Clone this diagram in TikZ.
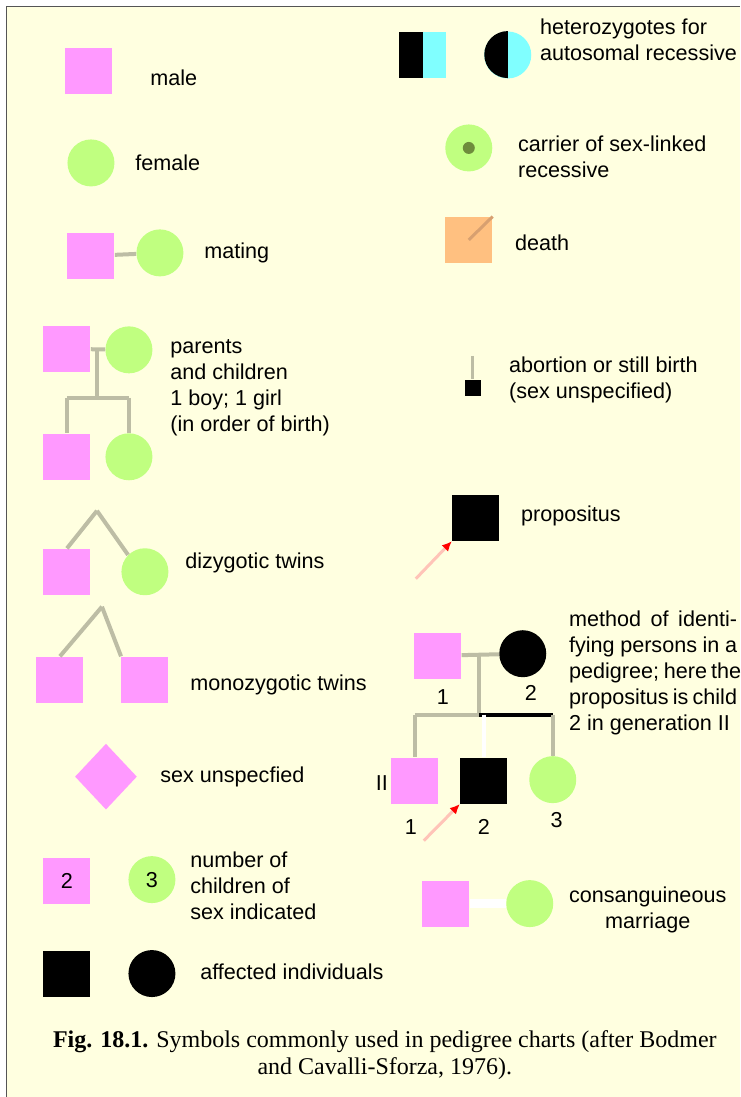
\documentclass[tikz,border=0pt]{standalone}
\usepackage{fontspec}
\setmainfont{Liberation Serif}
\newfontfamily\arialf{Liberation Sans}
\usetikzlibrary{shapes.geometric,arrows.meta}

\definecolor{paper}{HTML}{FFFFE0}
\definecolor{malepink}{HTML}{FF99FF}
\definecolor{femgreen}{HTML}{C0FF80}
\definecolor{hetcyan}{HTML}{80FFFF}
\definecolor{deathpeach}{HTML}{FFC080}
\definecolor{deathline}{HTML}{D8A070}
\definecolor{kinline}{HTML}{BDBDA5}
\definecolor{propink}{HTML}{FFC4B8}
\definecolor{dotgreen}{HTML}{6E8C3C}
\definecolor{framegrey}{HTML}{555555}

\newcommand{\lblfont}{\arialf\fontsize{10.8}{13}\selectfont}
\newcommand{\fullline}[1]{\makebox[84pt][s]{#1}}

\tikzset{
  male/.style={rectangle, fill=malepink, minimum width=23.5pt, minimum height=23pt, inner sep=0pt},
  female/.style={circle, fill=femgreen, minimum size=23.5pt, inner sep=0pt},
  unknown/.style={diamond, fill=malepink, minimum width=31pt, minimum height=33pt, inner sep=0pt},
  kin/.style={draw=kinline, line width=2pt},
  propline/.style={draw=propink, line width=1.5pt, -{Latex[color=red,length=5pt,width=4.5pt]}},
  lbl/.style={anchor=west, font=\lblfont, align=left, inner sep=0pt},
  num/.style={font=\lblfont, inner sep=0pt}
}

\begin{document}
\begin{tikzpicture}[x=0.5pt, y=-0.5pt]
    % Page and frame
    \fill[white] (0,0) rectangle (740,1097);
    \fill[paper] (7,7) rectangle (740,1097);
    \draw[framegrey, line width=0.5pt] (740,7) -- (7,7) -- (7,1097);
    \useasboundingbox (0,0) rectangle (740,1097);

    % Left column
    \node[male] (male) at (89,71) {};
    \node[lbl] (maletxt) at (150,78) {male};

    \node[female] (female) at (91,163) {};
    \node[lbl] (femaletxt) at (135,163) {female};

    \node[male] (mateM) at (91,256) {};
    \node[female] (mateF) at (160,253) {};
    \draw[kin] (mateM) -- (mateF);
    \node[lbl] (matetxt) at (204,253) {mating};

    % Parents and children
    \node[male] (parM) at (67,349) {};
    \node[female] (parF) at (129,350) {};
    \node[male] (kidM) at (67,457) {};
    \node[female] (kidF) at (129,457) {};
    \coordinate (parTop) at (97,351);
    \coordinate (parSib) at (97,398);
    \draw[kin] (parM) -- (parF);
    \draw[kin] (parTop) -- (parSib);
    \draw[kin] (kidM |- parSib) -- (kidF |- parSib);
    \draw[kin] (kidM |- parSib) -- (kidM.north);
    \draw[kin] (kidF |- parSib) -- (kidF.north);
    \node[lbl] (partxt) at (170,388) {parents\\and children\\1 boy; 1 girl\\(in order of birth)};

    % Twins
    \coordinate (dzApex) at (97,511);
    \node[male] (dzM) at (67,572) {};
    \node[female] (dzF) at (145,572) {};
    \draw[kin] (dzApex) -- (dzM.north);
    \draw[kin] (dzApex) -- (dzF.north west);
    \node[lbl] (dztxt) at (185,563) {dizygotic twins};

    \coordinate (mzApex) at (102,607);
    \node[male] (mzA) at (60,680) {};
    \node[male] (mzB) at (145,680) {};
    \draw[kin] (mzApex) -- (mzA.north);
    \draw[kin] (mzApex) -- (mzB.north west);
    \node[lbl] (mztxt) at (190,685) {monozygotic twins};

    \node[unknown] (unk) at (106,777) {};
    \node[lbl] (unktxt) at (160,777) {sex unspecfied};

    \node[male, font=\lblfont] (numM) at (67,881) {2};
    \node[female, font=\lblfont] (numF) at (152,880) {3};
    \node[lbl] (numtxt) at (190,886) {number of\\children of\\sex indicated};

    \node[male, fill=black] (affM) at (67,974) {};
    \node[female, fill=black] (affF) at (152,974) {};
    \node[lbl] (afftxt) at (200,972) {affected individuals};

    % Right column
    \node[male, fill=hetcyan] (hetM) at (423,55) {};
    \fill[black] (hetM.north west) rectangle (hetM.south);
    \node[female, fill=hetcyan] (hetF) at (508,55) {};
    \fill[black] (hetF.north) arc[start angle=90, end angle=270, radius=11.75pt] -- cycle;
    \node[lbl] (hettxt) at (540,40) {heterozygotes for\\autosomal recessive};

    \node[female] (carF) at (469,148) {};
    \fill[dotgreen] (carF.center) circle[radius=3pt];
    \node[lbl] (cartxt) at (518,157) {carrier of sex-linked\\recessive};

    \node[male, fill=deathpeach] (deadM) at (469,240) {};
    \draw[deathline, line width=1.5pt] (deadM.north east) -- (deadM.center);
    \node[lbl] (deadtxt) at (515,243) {death};

    \node[fill=black, minimum size=8pt, inner sep=0pt] (abort) at (473,388) {};
    \coordinate (abortTop) at (473,356);
    \draw[kin, line width=1.5pt] (abortTop) -- (abort.north);
    \node[lbl] (aborttxt) at (509,380) {abortion or still birth\\(sex unspecified)};

    \node[male, fill=black] (prop) at (476,518) {};
    \coordinate (propTail) at (416,579);
    \draw[propline] (propTail) -- (prop.south west);
    \node[lbl] (proptxt) at (521,516) {propositus};

    % Numbered pedigree
    \node[male] (gIM) at (438,656) {};
    \node[female, fill=black] (gIF) at (523,654) {};
    \node[num] (gIa) at (443,697) {1};
    \node[num] (gIb) at (531,693) {2};
    \coordinate (gTop) at (479,655);
    \coordinate (gSib) at (479,715);
    \node[male] (gIIa) at (415,781) {};
    \node[male, fill=black] (gIIb) at (484,781) {};
    \node[female] (gIIc) at (553,780) {};
    \draw[kin] (gIM) -- (gIF);
    \draw[kin] (gTop) -- (gSib);
    \draw[kin] (gIIa |- gSib) -- (gSib);
    \draw[line width=2pt] (gSib) -- (gIIc |- gSib);
    \draw[kin] (gIIa |- gSib) -- (gIIa.north);
    \draw[white, line width=2pt] (gIIb |- gSib) -- (gIIb.north);
    \draw[kin] (gIIc |- gSib) -- (gIIc.north);
    \node[num] (gII) at (382,783) {II};
    \node[num] (gIIan) at (411,827) {1};
    \node[num] (gIIbn) at (484,827) {2};
    \node[num] (gIIcn) at (557,820) {3};
    \coordinate (gPropTail) at (424,841);
    \draw[propline] (gPropTail) -- (gIIb.south west);
    \node[lbl] (gtxt) at (569,673)
        {\fullline{method of identi-}\\\fullline{fying persons in a}\\\fullline{pedigree; here the}\\\fullline{propositus is child}\\2 in generation II};

    \node[male] (conM) at (446,904) {};
    \node[female] (conF) at (530,904) {};
    \draw[white, double=white, double distance=1.5pt, line width=1.5pt] (conM) -- (conF);
    \node[lbl, align=center, anchor=center] (contxt) at (648,910) {consanguineous\\marriage};

    % Caption
    \node[font=\fontsize{12}{13.5}\selectfont, align=center] (caption) at (385,1056)
        {\textbf{Fig. 18.1.} Symbols commonly used in pedigree charts (after Bodmer\\and Cavalli-Sforza, 1976).};
\end{tikzpicture}
\end{document}
